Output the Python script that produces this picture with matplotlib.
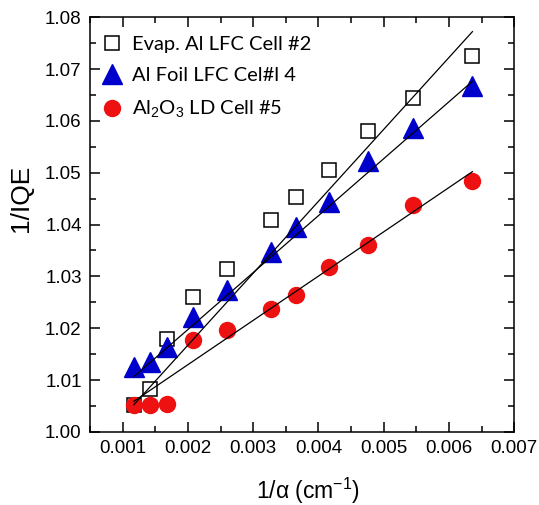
import numpy as np
import matplotlib
matplotlib.use('Agg')
import matplotlib.pyplot as plt
from matplotlib.font_manager import FontProperties

plt.rcParams['font.family'] = ['Liberation Sans', 'DejaVu Sans']
plt.rcParams['mathtext.fontset'] = 'custom'
plt.rcParams['mathtext.rm'] = 'Liberation Sans'
plt.rcParams['mathtext.it'] = 'Liberation Sans:italic'

# 1/alpha (cm^-1), same for all cells
inv_alpha = [0.00117, 0.00142, 0.00168, 0.00208, 0.00260, 0.00327,
             0.00366, 0.00416, 0.00476, 0.00545, 0.00636]

# 1/IQE per cell
evap_al = [1.0052, 1.0082, 1.0180, 1.0260, 1.0315, 1.0408,
           1.0453, 1.0505, 1.0581, 1.0645, 1.0726]
al_foil = [1.0126, 1.0135, 1.0164, 1.0221, 1.0273, 1.0347,
           1.0396, 1.0443, 1.0523, 1.0587, 1.0667]
al2o3 = [1.0052, 1.0052, 1.0054, 1.0178, 1.0196, 1.0238,
         1.0265, 1.0319, 1.0360, 1.0438, 1.0485]

# linear fits (intercept, slope) as drawn in the figure
fit_evap = (0.9890, 13.87)
fit_foil = (0.9978, 10.98)
fit_al2o3 = (0.9959, 8.54)
fit_range = (0.00117, 0.00636)

fig = plt.figure(figsize=(5.39, 5.05), dpi=100)
ax = fig.add_axes([0.167, 0.1446, 0.787, 0.8214])

ax.plot(inv_alpha, evap_al, 's', ms=10, mfc='white', mec='black', mew=1.1,
        label='Evap. Al LFC Cell #2', zorder=3)
ax.plot(inv_alpha, al_foil, '^', ms=14, mfc='#0000cc', mec='#0000cc',
        label='Al Foil LFC Cel#l 4', zorder=3)
ax.plot(inv_alpha, al2o3, 'o', ms=11.5, mfc='#ee1111', mec='#ee1111',
        label='Al$_2$O$_3$ LD Cell #5', zorder=3)

xf = np.array(fit_range)
for b, m in [fit_evap, fit_foil, fit_al2o3]:
    ax.plot(xf, b + m * xf, '-', color='black', lw=0.9, zorder=4)

ax.set_xlim(0.0005, 0.007)
ax.set_ylim(1.00, 1.08)
ax.set_xticks([0.001, 0.002, 0.003, 0.004, 0.005, 0.006, 0.007])
ax.set_xticks(np.arange(0.0005, 0.0071, 0.0005), minor=True)
ax.set_yticks(np.arange(1.00, 1.081, 0.01))
ax.set_yticks(np.arange(1.00, 1.081, 0.005), minor=True)
ax.xaxis.set_major_formatter(plt.FuncFormatter(lambda v, p: f'{v:.3f}'))
ax.yaxis.set_major_formatter(plt.FuncFormatter(lambda v, p: f'{v:.2f}'))

ax.tick_params(which='both', direction='in', top=True, right=True,
               labelsize=13.5, width=1.1)
ax.tick_params(which='major', length=7, pad=6)
ax.tick_params(which='minor', length=4)
for s in ax.spines.values():
    s.set_linewidth(1.1)

ax.set_xlabel('1/\u03b1 (cm$^{-1}$)', fontsize=16.5)
ax.xaxis.set_label_coords(0.515, -0.105)
ax.set_ylabel('1/IQE', fontsize=19)
ax.yaxis.set_label_coords(-0.135, 0.564)

leg_font = FontProperties(family=['Lato', 'DejaVu Sans'], size=14.5)
ax.legend(loc='upper left', frameon=False, prop=leg_font, handletextpad=0.3,
          handlelength=1.4, labelspacing=0.72, borderaxespad=0.0,
          bbox_to_anchor=(0.0, 0.975))

fig.savefig('out.png', dpi=100)
